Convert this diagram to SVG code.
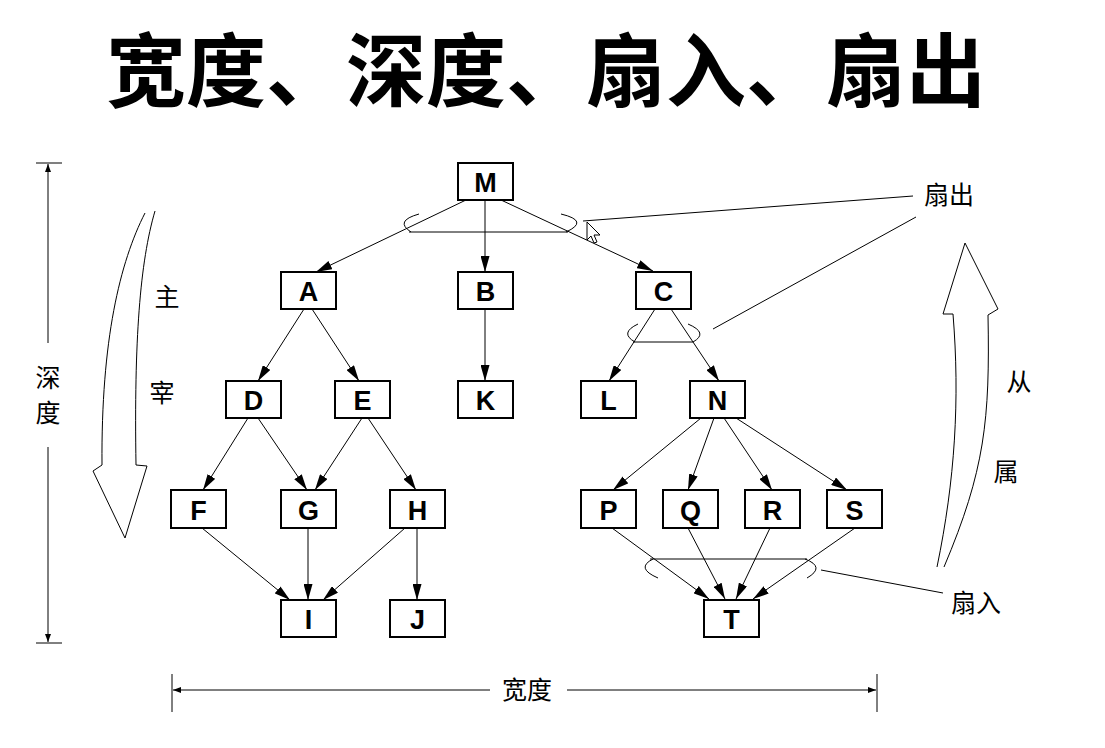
<svg xmlns="http://www.w3.org/2000/svg" width="1105" height="748" viewBox="0 0 1105 748">
<style>
.box{fill:#fff;stroke:#000;stroke-width:2}
.lbl{font-family:"Liberation Sans",Arial,sans-serif;font-weight:bold;font-size:27px;text-anchor:middle;fill:#000}
.edge{stroke:#000;stroke-width:1;fill:none;marker-end:url(#ah)}
.thin{stroke:#000;stroke-width:1;fill:none}
.cjk{font-family:"Noto Sans CJK SC","Noto Sans CJK JP",sans-serif;font-size:25px;text-anchor:middle;fill:#000}
</style>
<defs>
<marker id="ah" markerUnits="userSpaceOnUse" markerWidth="16" markerHeight="9" refX="16" refY="4.5" orient="auto">
<path d="M0,0 L16,4.5 L0,9 Z" fill="#000"/>
</marker>
<marker id="sa" markerUnits="userSpaceOnUse" markerWidth="8" markerHeight="6" refX="8" refY="3" orient="auto">
<path d="M0,0 L8,3 L0,6 Z" fill="#000"/>
</marker>
</defs>
<rect width="1105" height="748" fill="#fff"/>
<text x="546" y="100" font-family="'Noto Sans CJK SC','Noto Sans CJK JP',sans-serif" font-size="80" font-weight="bold" text-anchor="middle">宽度、深度、扇入、扇出</text>

<g id="connectors">
<line class="edge" x1="466" y1="200" x2="316" y2="272"/>
<line class="edge" x1="485" y1="200" x2="485" y2="272"/>
<line class="edge" x1="501" y1="200" x2="653" y2="271"/>
<line class="edge" x1="304" y1="309" x2="258" y2="381"/>
<line class="edge" x1="312" y1="309" x2="359" y2="381"/>
<line class="edge" x1="485" y1="309" x2="485" y2="381"/>
<line class="edge" x1="655" y1="309" x2="609" y2="381"/>
<line class="edge" x1="671" y1="309" x2="719" y2="381"/>
<line class="edge" x1="248" y1="418" x2="203" y2="490"/>
<line class="edge" x1="258" y1="418" x2="307" y2="490"/>
<line class="edge" x1="362" y1="418" x2="315" y2="490"/>
<line class="edge" x1="368" y1="418" x2="416" y2="490"/>
<line class="edge" x1="701" y1="418" x2="613" y2="490"/>
<line class="edge" x1="714" y1="418" x2="688" y2="490"/>
<line class="edge" x1="724" y1="418" x2="772" y2="490"/>
<line class="edge" x1="736" y1="418" x2="847" y2="490"/>
<line class="edge" x1="202" y1="528" x2="290" y2="600"/>
<line class="edge" x1="308" y1="528" x2="308" y2="600"/>
<line class="edge" x1="405" y1="528" x2="323" y2="600"/>
<line class="edge" x1="417" y1="528" x2="417" y2="600"/>
<line class="edge" x1="612" y1="528" x2="709" y2="599"/>
<line class="edge" x1="688" y1="528" x2="725" y2="599"/>
<line class="edge" x1="770" y1="528" x2="736" y2="599"/>
<line class="edge" x1="855" y1="528" x2="753" y2="599"/>
</g>

<g id="fanout-M">
<line class="thin" x1="409" y1="232" x2="568" y2="232"/>
<path class="thin" d="M419,214 Q394,221 411,232"/>
<path class="thin" d="M561,214 Q590,221 566,232"/>
<line class="thin" x1="583" y1="221" x2="913" y2="196"/>
<path d="M587,222 L587,240 L591,236 L594,243 L597,242 L594,235 L600,235 Z" fill="#fff" stroke="#000" stroke-width="1"/>
</g>
<g id="fanout-C">
<line class="thin" x1="633" y1="342" x2="693" y2="342"/>
<path class="thin" d="M638,324 Q619,333 635,342"/>
<path class="thin" d="M688,324 Q709,333 693,342"/>
<line class="thin" x1="713" y1="329" x2="916" y2="217"/>
</g>
<g id="fanin-T">
<line class="thin" x1="650" y1="559" x2="807" y2="559"/>
<path class="thin" d="M653,559 Q635,568 658,578"/>
<path class="thin" d="M805,559 Q826,567 807,578"/>
<line class="thin" x1="821" y1="570" x2="943" y2="593"/>
</g>

<g id="nodes">
<g id="node-M"><rect class="box" x="458" y="163" width="55" height="37"/><text class="lbl" x="485.5" y="192">M</text></g>
<g id="node-A"><rect class="box" x="281" y="272" width="55" height="37"/><text class="lbl" x="308.5" y="301">A</text></g>
<g id="node-B"><rect class="box" x="458" y="272" width="55" height="37"/><text class="lbl" x="485.5" y="301">B</text></g>
<g id="node-C"><rect class="box" x="636" y="272" width="55" height="37"/><text class="lbl" x="663.5" y="301">C</text></g>
<g id="node-D"><rect class="box" x="226" y="381" width="55" height="37"/><text class="lbl" x="253.5" y="410">D</text></g>
<g id="node-E"><rect class="box" x="335" y="381" width="55" height="37"/><text class="lbl" x="362.5" y="410">E</text></g>
<g id="node-K"><rect class="box" x="458" y="381" width="55" height="37"/><text class="lbl" x="485.5" y="410">K</text></g>
<g id="node-L"><rect class="box" x="581" y="381" width="55" height="37"/><text class="lbl" x="608.5" y="410">L</text></g>
<g id="node-N"><rect class="box" x="690" y="381" width="55" height="37"/><text class="lbl" x="717.5" y="410">N</text></g>
<g id="node-F"><rect class="box" x="171" y="490" width="55" height="38"/><text class="lbl" x="198.5" y="519.5">F</text></g>
<g id="node-G"><rect class="box" x="281" y="490" width="55" height="38"/><text class="lbl" x="308.5" y="519.5">G</text></g>
<g id="node-H"><rect class="box" x="390" y="490" width="55" height="38"/><text class="lbl" x="417.5" y="519.5">H</text></g>
<g id="node-P"><rect class="box" x="581" y="490" width="55" height="38"/><text class="lbl" x="608.5" y="519.5">P</text></g>
<g id="node-Q"><rect class="box" x="663" y="490" width="55" height="38"/><text class="lbl" x="690.5" y="519.5">Q</text></g>
<g id="node-R"><rect class="box" x="745" y="490" width="55" height="38"/><text class="lbl" x="772.5" y="519.5">R</text></g>
<g id="node-S"><rect class="box" x="827" y="490" width="55" height="38"/><text class="lbl" x="854.5" y="519.5">S</text></g>
<g id="node-I"><rect class="box" x="281" y="600" width="55" height="37"/><text class="lbl" x="308.5" y="629">I</text></g>
<g id="node-J"><rect class="box" x="390" y="600" width="55" height="37"/><text class="lbl" x="417.5" y="629">J</text></g>
<g id="node-T"><rect class="box" x="704" y="600" width="55" height="37"/><text class="lbl" x="731.5" y="629">T</text></g>
</g>

<g id="depth-dimension">
<line class="thin" x1="36" y1="163" x2="62" y2="163"/>
<line class="thin" x1="36" y1="643" x2="62" y2="643"/>
<line class="thin" x1="48" y1="343" x2="48" y2="164" marker-end="url(#sa)"/>
<line class="thin" x1="48" y1="447" x2="48" y2="642" marker-end="url(#sa)"/>
<text class="cjk" x="48" y="387" font-size="26">深</text>
<text class="cjk" x="48" y="422" font-size="26">度</text>
</g>

<g id="width-dimension">
<line class="thin" x1="172" y1="674" x2="172" y2="712"/>
<line class="thin" x1="877" y1="674" x2="877" y2="712"/>
<line class="thin" x1="490" y1="690" x2="173" y2="690" marker-end="url(#sa)"/>
<line class="thin" x1="567" y1="690" x2="876" y2="690" stroke-width="1.5" marker-end="url(#sa)"/>
<text class="cjk" x="527" y="699">宽度</text>
</g>

<g id="dominate-arrow">
<path d="M145,213 C120,262 101,340 102,465 L93,471 L125,538 L147,466 L136,465 C134,340 140,262 155,211" fill="#fff" stroke="#000" stroke-width="1"/>
<text class="cjk" x="167" y="306">主</text>
<text class="cjk" x="162" y="402">宰</text>
</g>

<g id="subordinate-arrow">
<path d="M937,567 C955,480 960,400 953,314 L943,314 L965,243 L998,309 L988,315 C990,420 985,470 944,567" fill="#fff" stroke="#000" stroke-width="1"/>
<text class="cjk" x="1019" y="391">从</text>
<text class="cjk" x="1006" y="481">属</text>
</g>

<text class="cjk" x="949" y="204">扇出</text>
<text class="cjk" x="976" y="612">扇入</text>
</svg>
